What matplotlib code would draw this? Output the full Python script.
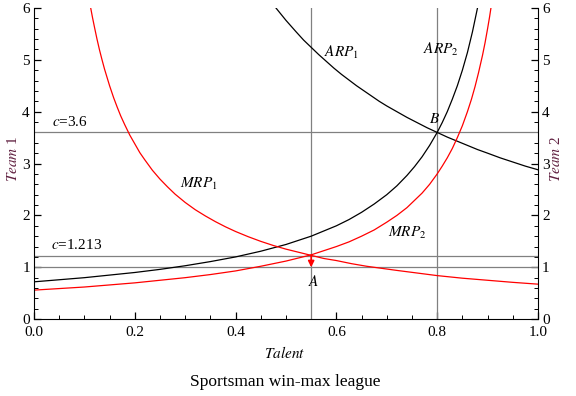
import matplotlib.pyplot as plt
import numpy as np

plt.rcParams['font.family'] = ['Liberation Serif', 'DejaVu Serif']
plt.rcParams['mathtext.fontset'] = 'stix'

# curves
arp1_x = [0.48, 0.49, 0.50, 0.51, 0.52, 0.535, 0.55, 0.565, 0.58, 0.595, 0.61, 0.625, 0.64, 0.655,
          0.67, 0.685, 0.70, 0.72, 0.74, 0.76, 0.78, 0.80, 0.82, 0.84, 0.86, 0.88, 0.90, 0.925,
          0.95, 0.975, 1.00]
arp1_y = [6.00, 5.88, 5.76, 5.65, 5.54, 5.38, 5.24, 5.10, 4.97, 4.84, 4.72, 4.61, 4.50, 4.40,
          4.30, 4.20, 4.11, 4.00, 3.89, 3.79, 3.69, 3.60, 3.51, 3.43, 3.35, 3.27, 3.20, 3.11,
          3.03, 2.95, 2.88]

arp2_x = [0.0, 0.05, 0.1, 0.15, 0.2, 0.25, 0.3, 0.35, 0.4, 0.45, 0.5, 0.55, 0.6, 0.625, 0.65,
          0.675, 0.7, 0.72, 0.74, 0.755, 0.77, 0.785, 0.8, 0.81, 0.82, 0.83, 0.84, 0.85, 0.86,
          0.87, 0.88]
arp2_y = [0.72, 0.76, 0.80, 0.85, 0.90, 0.96, 1.03, 1.11, 1.20, 1.31, 1.44, 1.60, 1.80, 1.92, 2.06,
          2.22, 2.40, 2.57, 2.77, 2.94, 3.13, 3.35, 3.60, 3.79, 4.00, 4.24, 4.50, 4.80, 5.14,
          5.54, 6.00]

mrp1_x = [0.1125, 0.116, 0.12, 0.125, 0.13, 0.135, 0.14, 0.145, 0.15, 0.158, 0.165, 0.172, 0.18,
          0.19, 0.2, 0.21, 0.22, 0.235, 0.25, 0.265, 0.28, 0.3, 0.32, 0.34, 0.36, 0.38, 0.4,
          0.425, 0.45, 0.475, 0.5, 0.525, 0.55, 0.575, 0.6, 0.63, 0.66, 0.69, 0.72, 0.76, 0.8,
          0.85, 0.9, 0.95, 1.0]
mrp1_y = [6.00, 5.82, 5.63, 5.40, 5.19, 5.00, 4.82, 4.66, 4.50, 4.27, 4.09, 3.92, 3.75,
          3.55, 3.38, 3.21, 3.07, 2.87, 2.70, 2.55, 2.41, 2.25, 2.11, 1.99, 1.88, 1.78, 1.69,
          1.59, 1.50, 1.42, 1.35, 1.29, 1.23, 1.17, 1.13, 1.07, 1.02, 0.98, 0.94, 0.89, 0.84,
          0.79, 0.75, 0.71, 0.675]

mrp2_x = [0.0, 0.05, 0.1, 0.15, 0.2, 0.25, 0.3, 0.35, 0.4, 0.45, 0.5, 0.55, 0.6, 0.625, 0.65,
          0.675, 0.7, 0.72, 0.74, 0.755, 0.77, 0.785, 0.8, 0.81, 0.82, 0.83, 0.84, 0.85, 0.86,
          0.868, 0.875, 0.882, 0.89, 0.895, 0.9, 0.904, 0.907]
mrp2_y = [0.56, 0.59, 0.62, 0.66, 0.70, 0.75, 0.80, 0.86, 0.93, 1.02, 1.12, 1.24, 1.40, 1.49, 1.60,
          1.72, 1.87, 2.00, 2.15, 2.29, 2.43, 2.60, 2.80, 2.95, 3.11, 3.29, 3.50, 3.73, 4.00,
          4.24, 4.48, 4.75, 5.09, 5.33, 5.60, 5.83, 6.02]

h_lines = [3.6, 1.213, 1.0]
v_lines = [0.55, 0.8]
point_A = (0.55, 1.213)
point_B = (0.8, 3.6)

fig = plt.figure(figsize=(5.76, 3.96), dpi=100)
ax = fig.add_axes([0.059, 0.194, 0.875, 0.786])

for y in h_lines:
    ax.axhline(y, color='#808080', lw=0.9)
for x in v_lines:
    ax.axvline(x, color='#808080', lw=0.9)

ax.plot(arp1_x, arp1_y, color='black', lw=0.9)
ax.plot(arp2_x, arp2_y, color='black', lw=0.9)
ax.plot(mrp1_x, mrp1_y, color='red', lw=0.9)
ax.plot(mrp2_x, mrp2_y, color='red', lw=0.9)

ax.annotate('', xy=(point_A[0], 1.0), xytext=(point_A[0], point_A[1] + 0.02),
            arrowprops=dict(arrowstyle='-|>', color='red', lw=1.2, mutation_scale=9,
                            shrinkA=0, shrinkB=0))

ax.text(0.555, 0.72, '$A$', fontsize=11, ha='center', va='center')
ax.text(0.795, 3.85, '$B$', fontsize=11, ha='center', va='center')
ax.text(0.575, 5.15, '$ARP_1$', fontsize=11, ha='left', va='center')
ax.text(0.772, 5.2, '$ARP_2$', fontsize=11, ha='left', va='center')
ax.text(0.29, 2.6, '$MRP_1$', fontsize=11, ha='left', va='center')
ax.text(0.703, 1.67, '$MRP_2$', fontsize=11, ha='left', va='center')
ax.text(0.035, 3.8, '$c$=3.6', fontsize=11, ha='left', va='center')
ax.text(0.033, 1.43, '$c$=1.213', fontsize=11, ha='left', va='center')

ax.set_xlim(0, 1)
ax.set_ylim(0, 6)
ax.set_xticks(np.arange(0, 1.01, 0.2))
ax.set_xticks(np.arange(0, 1.01, 0.05), minor=True)
ax.set_yticks(np.arange(0, 7, 1))
ax.set_yticks(np.arange(0, 6.01, 0.2), minor=True)
ax.set_xticklabels(['0.0', '0.2', '0.4', '0.6', '0.8', '1.0'])
ax.tick_params(which='both', direction='in', labelsize=11, left=True, right=True,
               labelleft=True, labelright=True, top=False, pad=3)
ax.tick_params(axis='x', which='both', pad=5)
ax.tick_params(which='major', length=5, width=0.9)
ax.tick_params(which='minor', length=3, width=0.7)
ax.spines['top'].set_visible(False)

fig.text(0.022, 0.6, '$Team$ 1', fontsize=11, color='#602040', rotation=90,
         ha='center', va='center')
fig.text(0.965, 0.6, '$Team$ 2', fontsize=11, color='#602040', rotation=90,
         ha='center', va='center')
fig.text(0.495, 0.108, '$Talent$', fontsize=11, ha='center', va='center')
fig.text(0.495, 0.035, 'Sportsman win-max league', fontsize=12.5, ha='center', va='center')

fig.savefig('out.png', dpi=100)
